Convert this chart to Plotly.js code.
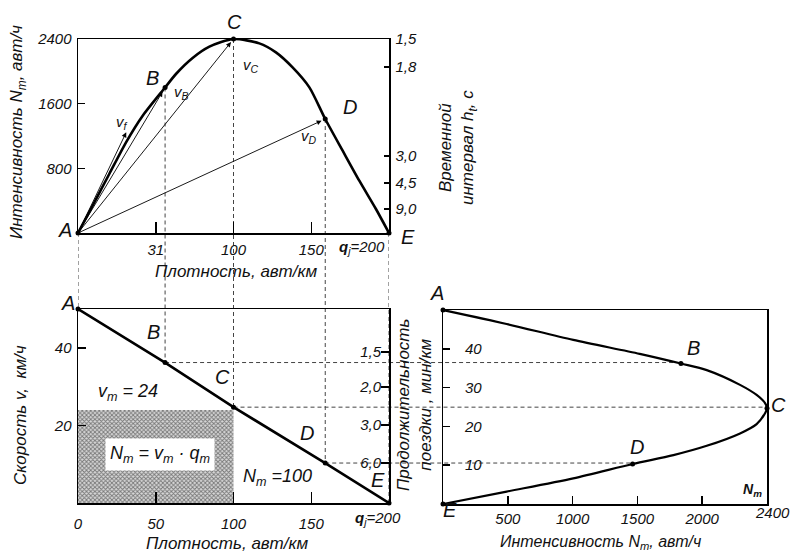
<!DOCTYPE html>
<html>
<head>
<meta charset="utf-8">
<script src="https://cdn.plot.ly/plotly-3.0.1.min.js"></script>
<style>html,body{margin:0;padding:0;background:#fff}#chart{width:790px;height:554px}</style>
</head>
<body>
<div id="chart"></div>
<script>
// ---- data ----
// top panel: flow N (veh/h) vs density q (veh/km)
const qCurve = [0, 9.4, 20.1, 30.9, 41.6, 56, 63, 73.7, 84.5, 100, 116.6, 127.3, 138, 148.8, 159, 170.2, 180.9, 191.6, 200];
const nCurve = [0, 338, 730, 1122, 1451, 1800, 1967, 2165, 2305, 2400, 2346, 2235, 2049, 1802, 1410, 1018, 647, 297, 0];
const ptLabels = ['A', 'B', 'C', 'D', 'E'];
const qPts = [0, 56, 100, 159, 200];
const nPts = [0, 1800, 2400, 1410, 0];
const vfTip = [31, 1245];
// bottom-left panel: speed v (km/h) vs density
const vPts = [50, 36.2, 24.7, 10.3, 0];
const rectQ = [0, 100];
const rectV = [0, 24];
// right panel: speed vs flow
const nRight = [0, 491, 1005, 1518, 1836, 2035, 2292, 2420, 2485, 2500, 2485, 2420, 2292, 2035, 1778, 1463, 1005, 491, 0];
const vRight = [50, 46.4, 42.3, 38.7, 36.2, 34.5, 30.7, 28.1, 26, 24.7, 23.4, 20.6, 18.2, 15, 12.6, 10.3, 6.6, 3.2, 0];
const nRightPts = [0, 1836, 2500, 1463, 0];
// tick labels
const topXTicks = [50, 100, 150];
const topXText = ['31', '100', '150'];
const topYTicks = [800, 1600, 2400];
const headwayVals = [2400, 2054, 953, 619, 297];
const headwayText = ['1,5', '1,8', '3,0', '4,5', '9,0'];
const blXTicks = [0, 50, 100, 150];
const blYTicks = [20, 40];
const travelVals = [38.9, 29.9, 20.1, 10.3];
const travelText = ['1,5', '2,0', '3,0', '6,0'];
const rXTicks = [500, 1000, 1500, 2000];
const rYTicks = [10, 20, 30, 40];

// ---- layout geometry ----
const W = 790, H = 554;
const px = x => x / W, py = y => 1 - y / H;
const domXL = [px(78), px(389)];
const domYT = [py(233), py(39)];
const domYB = [py(503), py(309)];
const domXR = [px(443), px(767)];
const domYR = [py(504), py(310)];
const rQ = [0, 200], rN = [0, 2400], rV = [0, 50], rNR = [0, 2500];
const map = (v, dom, r) => dom[0] + (v - r[0]) / (r[1] - r[0]) * (dom[1] - dom[0]);

const FONT = 'Liberation Sans, Arial, sans-serif';
const f = (s, extra) => Object.assign({family: FONT, size: s, color: '#111', style: 'italic'}, extra || {});

const traces = [];
// top curve
traces.push({x: qCurve, y: nCurve, xaxis: 'x', yaxis: 'y', mode: 'lines', line: {color: '#000', width: 2.6, shape: 'spline', smoothing: 0.7}, hoverinfo: 'skip'});
traces.push({x: qPts, y: nPts, xaxis: 'x', yaxis: 'y', mode: 'markers', marker: {color: '#000', size: 5}, cliponaxis: false, hoverinfo: 'skip'});
// invisible carriers so the secondary axes are drawn
traces.push({x: [qPts[0]], y: [nPts[0]], xaxis: 'x', yaxis: 'y2', mode: 'markers', marker: {opacity: 0}, hoverinfo: 'skip'});
traces.push({x: [qPts[4]], y: [vPts[4]], xaxis: 'x2', yaxis: 'y4', mode: 'markers', marker: {opacity: 0}, hoverinfo: 'skip'});
// bottom-left: shaded rectangle
traces.push({x: [rectQ[0], rectQ[1], rectQ[1], rectQ[0], rectQ[0]], y: [rectV[0], rectV[0], rectV[1], rectV[1], rectV[0]],
  xaxis: 'x2', yaxis: 'y3', mode: 'lines', fill: 'toself', line: {width: 0, color: 'rgba(0,0,0,0)'},
  fillcolor: '#d4d4d4', fillpattern: {shape: 'x', size: 3, solidity: 0.5, fgcolor: '#777', bgcolor: '#d8d8d8'}, hoverinfo: 'skip'});
traces.push({x: qPts, y: vPts, xaxis: 'x2', yaxis: 'y3', mode: 'lines+markers', line: {color: '#000', width: 2.6}, marker: {color: '#000', size: 5}, cliponaxis: false, hoverinfo: 'skip'});
// right curve
traces.push({x: nRight, y: vRight, xaxis: 'x3', yaxis: 'y5', mode: 'lines', line: {color: '#000', width: 2.2, shape: 'spline', smoothing: 0.8}, hoverinfo: 'skip'});
traces.push({x: nRightPts, y: vPts, xaxis: 'x3', yaxis: 'y5', mode: 'markers', marker: {color: '#000', size: 5}, cliponaxis: false, hoverinfo: 'skip'});

const dash = {color: '#444', width: 1, dash: '4px,3px'};
const shapes = [];
// vertical connectors from top panel down to bottom-left panel
for (let i = 0; i < qPts.length; i++) {
  shapes.push({type: 'line', xref: 'x', yref: 'paper', x0: qPts[i], x1: qPts[i],
    y0: map(nPts[i], domYT, rN), y1: map(vPts[i], domYB, rV), line: dash, layer: 'below'});
}
// horizontal connectors from bottom-left panel to right panel
for (let i = 1; i <= 3; i++) {
  shapes.push({type: 'line', xref: 'paper', yref: 'y3', x0: map(qPts[i], domXL, rQ), x1: map(nRightPts[i], domXR, rNR),
    y0: vPts[i], y1: vPts[i], line: dash, layer: 'below'});
}

const ann = [];
const A = (text, x, y, size, extra) => ann.push(Object.assign({text: text, xref: 'paper', yref: 'paper', x: px(x), y: py(y), showarrow: false, font: f(size), xanchor: 'center', yanchor: 'middle'}, extra || {}));
// arrows in top panel
const arrow = (tx, ty, sx, sy, stand) => ann.push({xref: 'x', yref: 'y', axref: 'x', ayref: 'y', x: tx, y: ty, ax: sx, ay: sy, text: '', showarrow: true, arrowhead: 2, arrowsize: 1.1, arrowwidth: 0.9, arrowcolor: '#000', standoff: stand});
arrow(vfTip[0], vfTip[1], 0, 0, 0);
arrow(qPts[1], nPts[1], 0, 0, 5);
arrow(qPts[2], nPts[2], 0, 0, 4);
arrow(qPts[3], nPts[3], 0, 0, 4);

// point labels
const topLab = [[65, 230], [152, 78], [235, 22], [350, 107], [408, 237]];
const blLab = [[68, 303], [153, 332], [222, 377], [307, 433], [378, 480]];
const rLab = [[437, 293], [693, 348], [778, 405], [637, 447], [450, 510]];
ptLabels.forEach((l, i) => { A(l, topLab[i][0], topLab[i][1], 20); A(l, blLab[i][0], blLab[i][1], 20); A(l, rLab[i][0], rLab[i][1], 20); });

A('v<sub>f</sub>', 122, 122, 15);
A('v<sub>B</sub>', 181, 92, 15);
A('v<sub>C</sub>', 251, 65, 15);
A('v<sub>D</sub>', 309, 137, 15);
A('<b>q</b><sub>j</sub>=200', 362, 247, 15);
A('Плотность, авт/км', 236, 271, 17);
A('Интенсивность N<sub>m</sub>, авт/ч', 18, 132, 17, {textangle: -90});
A('Временной<br>интервал h<sub>t</sub>, c', 458, 148, 17, {textangle: -90});

A('v<sub>m</sub> = 24', 128, 392, 18);
A('N<sub>m</sub> = v<sub>m</sub> · q<sub>m</sub>', 160, 454, 18, {bgcolor: '#fff', borderpad: 4});
A('N<sub>m</sub> =100', 277, 477, 18);
A('<b>q</b><sub>j</sub>=200', 378, 518, 15);
A('Плотность, авт/км', 227, 543, 17);
A('Скорость v,  км/ч', 20, 415, 17, {textangle: -90});

A('<b>N<sub>m</sub></b>', 752, 490, 14);
A('2400', 772, 512, 15);
A('Интенсивность N<sub>m</sub>, авт/ч', 600, 542, 16);
A('Продолжительность<br>поездки , мин/км', 414, 405, 17, {textangle: -90});

const axBase = {showline: true, linecolor: '#000', linewidth: 1.5, showgrid: false, zeroline: false, ticks: 'inside', tickcolor: '#000', tickwidth: 1.5, tickfont: f(15), fixedrange: true, tickmode: 'array'};
const ax = o => Object.assign({}, axBase, o);

const layout = {
  width: W, height: H, margin: {l: 0, r: 0, t: 0, b: 0}, paper_bgcolor: '#fff', plot_bgcolor: 'rgba(0,0,0,0)',
  showlegend: false, font: f(15),
  xaxis: ax({domain: domXL, anchor: 'y', range: rQ, tickvals: topXTicks, ticktext: topXText, ticklen: 11, mirror: true, ticklabelstandoff: 2}),
  yaxis: ax({domain: domYT, anchor: 'x', range: rN, tickvals: topYTicks, ticklen: 7, mirror: true, ticklabelstandoff: 2}),
  yaxis2: ax({overlaying: 'y', side: 'right', anchor: 'x', range: rN, tickvals: headwayVals, ticktext: headwayText, ticklen: 5, ticklabelstandoff: 2}),
  xaxis2: ax({domain: domXL, anchor: 'y3', range: rQ, tickvals: blXTicks, ticklen: 11, mirror: true, ticklabelstandoff: 6}),
  yaxis3: ax({domain: domYB, anchor: 'x2', range: rV, tickvals: blYTicks, ticklen: 8, mirror: true, ticklabelstandoff: 2}),
  yaxis4: ax({overlaying: 'y3', side: 'right', anchor: 'x2', range: rV, tickvals: travelVals, ticktext: travelText, ticklen: 8, ticklabelposition: 'inside'}),
  xaxis3: ax({domain: domXR, anchor: 'y5', range: rNR, tickvals: rXTicks, ticklen: 8, mirror: true, ticklabelstandoff: 0}),
  yaxis5: ax({domain: domYR, anchor: 'x3', range: rV, tickvals: rYTicks, ticklen: 7, mirror: true, ticklabelposition: 'inside', ticklabelstandoff: 15}),
  shapes: shapes,
  annotations: ann
};

Plotly.newPlot('chart', traces, layout, {displayModeBar: false, staticPlot: true});
</script>
</body>
</html>
